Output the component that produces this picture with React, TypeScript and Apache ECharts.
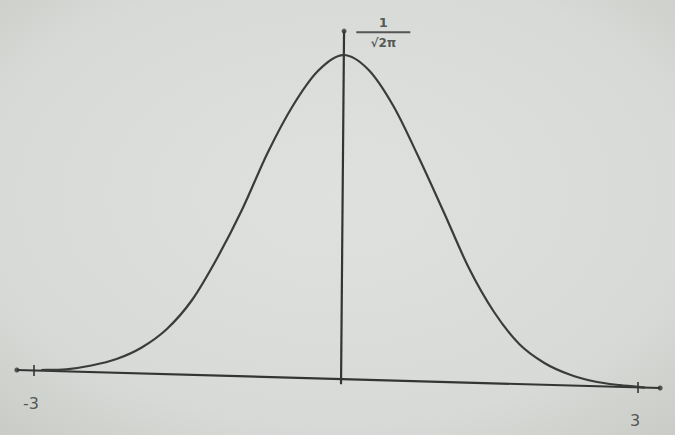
import React, { useEffect, useRef } from "react";
import * as echarts from "echarts";

// Hand-drawn standard normal curve (x in σ units, y in density units)
const curveX = [-2.93, -2.68, -2.43, -2.18, -1.93, -1.68, -1.43, -1.18, -0.93, -0.68, -0.43, -0.18, 0.07, 0.32, 0.57, 0.82, 1.07, 1.32, 1.57, 1.82, 2.07, 2.32, 2.57, 2.82, 3.07];
const curveY = [0.0, 0.0009, 0.0057, 0.0139, 0.0285, 0.0519, 0.0886, 0.1418, 0.2038, 0.2747, 0.3342, 0.3785, 0.3987, 0.3804, 0.3342, 0.2696, 0.2, 0.1291, 0.0734, 0.0329, 0.0089, -0.0057, -0.0146, -0.0192, -0.0222];

// Hand-drawn axes (slightly tilted baseline)
const baselineX = [-3.17, 3.22];
const baselineY = [0.0, -0.0228];
const verticalX = [0.05, 0.08];
const verticalY = [-0.018, 0.429];

// Tick labels
const tickValues = [-3, 3];
const tickLabels = ["-3", "3"];

// Peak label
const peakLabelPos = [0.47, 0.427];
const peakNumerator = "1";
const peakDenominator = "√2π";

const INK = "#333533";

function baselineAt(x: number) {
  const t = (x - baselineX[0]) / (baselineX[1] - baselineX[0]);
  return baselineY[0] + t * (baselineY[1] - baselineY[0]);
}

// Catmull-Rom spline through pixel points, as SVG path data
function splinePath(pts: number[][]) {
  if (!pts.length) return "";
  let d = `M${pts[0][0]},${pts[0][1]}`;
  for (let i = 0; i < pts.length - 1; i++) {
    const p0 = pts[Math.max(i - 1, 0)];
    const p1 = pts[i];
    const p2 = pts[i + 1];
    const p3 = pts[Math.min(i + 2, pts.length - 1)];
    const c1x = p1[0] + (p2[0] - p0[0]) / 6;
    const c1y = p1[1] + (p2[1] - p0[1]) / 6;
    const c2x = p2[0] - (p3[0] - p1[0]) / 6;
    const c2y = p2[1] - (p3[1] - p1[1]) / 6;
    d += ` C${c1x},${c1y} ${c2x},${c2y} ${p2[0]},${p2[1]}`;
  }
  return d;
}

export default function App() {
  const ref = useRef<HTMLDivElement>(null);
  useEffect(() => {
    if (!ref.current) return;
    const chart = echarts.init(ref.current, null, { renderer: "svg" });
    const curve = curveX.map((x, i) => [x, curveY[i]]);
    const baseline = baselineX.map((x, i) => [x, baselineY[i]]);
    const vertical = verticalX.map((x, i) => [x, verticalY[i]]);
    const ticks = tickValues.map((v) => [v, baselineAt(v)]);
    const ends = [baseline[0], baseline[1], vertical[1]];
    chart.setOption({
      animation: false,
      backgroundColor: new echarts.graphic.RadialGradient(0.5, 0.45, 0.75, [
        { offset: 0, color: "#dfe1de" },
        { offset: 0.7, color: "#d8dad7" },
        { offset: 1, color: "#c9cbc7" },
      ]),
      grid: { left: 3.8, right: 6.8, top: 14.5, bottom: 1.8 },
      xAxis: { type: "value", min: -3.3, max: 3.3, show: false },
      yAxis: { type: "value", min: -0.08, max: 0.45, show: false },
      series: [
        {
          type: "line",
          data: baseline,
          symbol: "none",
          lineStyle: { color: INK, width: 2.2 },
          z: 2,
        },
        {
          type: "line",
          data: vertical,
          symbol: "none",
          lineStyle: { color: INK, width: 2.2 },
          z: 2,
        },
        {
          type: "custom",
          coordinateSystem: "cartesian2d",
          data: curve,
          encode: { x: 0, y: 1 },
          clip: false,
          renderItem: (params: any, api: any) => {
            if (params.dataIndex !== 0) return null;
            const pts = curve.map((p) => api.coord(p));
            return {
              type: "path",
              shape: { pathData: splinePath(pts) },
              style: { stroke: "#3a3c3a", lineWidth: 2.2, fill: "none" },
            };
          },
          z: 3,
        },
        {
          type: "scatter",
          data: ticks,
          symbol: "rect",
          symbolSize: [2, 11],
          itemStyle: { color: INK },
          label: {
            show: true,
            position: "inside",
            offset: [-3, 33],
            formatter: (p: any) => tickLabels[p.dataIndex],
            color: INK,
            fontSize: 16,
            fontFamily: "DejaVu Sans",
          },
          z: 4,
        },
        {
          type: "scatter",
          data: ends,
          symbol: "circle",
          symbolSize: 5,
          itemStyle: { color: INK },
          z: 4,
        },
        {
          type: "scatter",
          data: [peakLabelPos],
          symbolSize: 1,
          itemStyle: { color: "rgba(0,0,0,0)" },
          label: {
            show: true,
            position: "inside",
            formatter: `{n|${peakNumerator}}\n{bar| }\n{d|${peakDenominator}}`,
            rich: {
              n: { fontSize: 13, fontWeight: "bold", lineHeight: 16, color: INK, align: "center", fontFamily: "DejaVu Sans" },
              bar: { width: 54, height: 2, lineHeight: 4, backgroundColor: INK, fontSize: 1 },
              d: { fontSize: 12, fontWeight: "bold", lineHeight: 17, color: INK, align: "center", fontFamily: "DejaVu Sans" },
            },
          },
          z: 5,
        },
      ],
    });
    return () => chart.dispose();
  }, []);
  return <div ref={ref} style={{ position: "absolute", left: 0, top: 0, width: 675, height: 435 }} />;
}
